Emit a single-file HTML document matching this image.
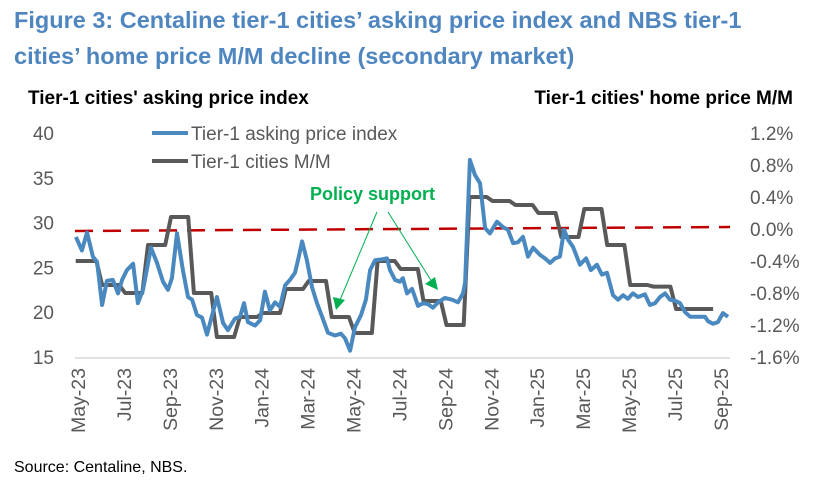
<!DOCTYPE html>
<html><head><meta charset="utf-8"><style>
body{margin:0;background:#fff;}
svg{display:block;font-family:"Liberation Sans",Arial,sans-serif;}
</style></head><body>
<svg id="chart" width="821" height="488" viewBox="0 0 821 488">
<text x="14" y="28" font-size="23.5" font-weight="bold" fill="#4F86C0">Figure 3: Centaline tier-1 cities’ asking price index and NBS tier-1</text>
<text x="14" y="64" font-size="23.5" font-weight="bold" fill="#4F86C0">cities’ home price M/M decline (secondary market)</text>
<text x="28" y="104" font-size="19" font-weight="bold" fill="#000">Tier-1 cities' asking price index</text>
<text x="793" y="104" font-size="19" font-weight="bold" fill="#000" text-anchor="end">Tier-1 cities' home price M/M</text>
<line x1="75" y1="358" x2="730" y2="358" stroke="#d9d9d9" stroke-width="1.5"/>
<g id="ylt"></g>
<g id="yrt"></g>
<g id="xt"></g>
<line x1="75" y1="231" x2="730" y2="227" stroke="#C00000" stroke-width="2.5" stroke-dasharray="18,10"/>
<g id="series"></g>
<g>
<line x1="152" y1="133" x2="188" y2="133" stroke="#4A89C0" stroke-width="4"/>
<text x="191" y="140" font-size="19" fill="#595959">Tier-1 asking price index</text>
<line x1="152" y1="161" x2="188" y2="161" stroke="#595959" stroke-width="4"/>
<text x="191" y="168" font-size="19" fill="#595959">Tier-1 cities M/M</text>
</g>
<g>
<text x="310" y="200" font-size="18" font-weight="bold" fill="#00B050">Policy support</text>
<line x1="377" y1="212" x2="340" y2="300" stroke="#00B050" stroke-width="1"/>
<polygon points="336,310 333,297 345,300" fill="#00B050"/>
<line x1="388" y1="212" x2="432" y2="282" stroke="#00B050" stroke-width="1"/>
<polygon points="438,290 425,284 435,277" fill="#00B050"/>
</g>
<text x="14" y="472" font-size="16" fill="#000">Source: Centaline, NBS.</text>
</svg>
<script>
const monthLabels=["May-23","Jul-23","Sep-23","Nov-23","Jan-24","Mar-24","May-24","Jul-24","Sep-24","Nov-24","Jan-25","Mar-25","May-25","Jul-25","Sep-25"];
const leftTicks=[15,20,25,30,35,40];
const rightTicks=[-1.6,-1.2,-0.8,-0.4,0.0,0.4,0.8,1.2];
const askingT=[-0.09,0.17,0.39,0.65,0.83,1.05,1.26,1.52,1.74,1.92,2.13,2.40,2.61,2.83,3.18,3.44,3.70,3.92,4.09,4.31,4.57,4.79,4.97,5.18,5.40,5.62,6.05,6.32,6.53,6.84,7.06,7.23,7.40,7.71,7.93,8.14,8.36,8.58,8.80,9.02,9.23,9.45,9.58,9.76,9.97,10.19,10.41,10.63,10.89,11.19,11.45,11.63,11.85,12.06,12.33,12.54,12.72,12.94,13.24,13.46,13.59,13.81,14.02,14.15,14.33,14.55,14.81,15.03,15.24,15.46,15.68,15.98,16.29,16.55,16.77,16.86,17.07,17.29,17.51,17.73,17.94,18.25,18.51,18.73,18.95,19.16,19.38,19.60,19.82,20.12,20.34,20.56,20.78,20.99,21.17,21.34,21.56,21.86,22.13,22.34,22.60,22.82,23.04,23.30,23.52,23.74,23.95,24.17,24.39,24.69,24.91,25.13,25.35,25.57,25.78,26.00,26.22,26.44,26.66,26.87,27.09,27.31,27.44,27.66,27.87,28.09,28.31];
const askingV=[28.4,26.9,28.9,26.2,25.6,20.8,23.5,23.6,22.1,23.6,24.7,25.4,21.0,22.5,27.2,25.5,23.4,22.5,23.8,28.8,24.7,21.7,21.4,19.7,19.4,17.5,21.7,18.8,18.0,19.3,19.5,21.0,18.9,18.5,19.1,22.3,20.2,21.1,20.6,23.0,23.6,24.4,25.8,27.9,25.8,22.8,21.0,19.5,17.7,17.4,17.6,17.1,15.7,18.3,19.7,21.4,24.7,25.8,25.9,26.0,24.7,23.6,23.4,23.8,22.1,22.6,20.7,21.0,20.9,20.5,21.1,21.6,21.4,21.1,22.1,23.3,37.0,35.3,34.4,29.4,28.8,30.1,29.5,29.2,27.7,27.8,28.4,26.2,27.2,26.4,26.0,25.5,26.0,26.2,29.2,28.1,27.3,25.3,26.0,24.7,25.3,24.2,24.4,21.9,21.4,21.9,21.5,22.1,21.7,22.0,20.8,21.0,21.7,22.1,21.4,21.3,21.0,20.0,19.5,19.5,19.5,19.5,19.0,18.7,18.9,19.9,19.5];
const mmMonth=[0,1,2,3,4,5,6,7,8,9,10,11,12,13,14,15,16,17,18,19,20,21,22,23,24,25,26,27];
const mmV=[-0.4,-0.7,-0.8,-0.2,0.15,-0.8,-1.35,-1.1,-1.05,-0.75,-0.65,-1.1,-1.3,-0.4,-0.5,-0.9,-1.2,0.4,0.35,0.3,0.2,-0.1,0.25,-0.2,-0.7,-0.72,-1.0,-1.0];

const NS="http://www.w3.org/2000/svg";
const x=t=>78+22.96*t;
const yL=v=>133+(40-v)*8.96;
const yR=p=>229-p*80;
function mk(tag,attrs,parent){const e=document.createElementNS(NS,tag);for(const k in attrs)e.setAttribute(k,attrs[k]);parent.appendChild(e);return e;}

const ylt=document.getElementById('ylt');
leftTicks.forEach(v=>{const t=mk('text',{x:54,y:yL(v)+7,'font-size':19,fill:'#595959','text-anchor':'end'},ylt);t.textContent=v;

});
const yrt=document.getElementById('yrt');
rightTicks.forEach(p=>{const t=mk('text',{x:750,y:yR(p)+7,'font-size':19,fill:'#595959'},yrt);t.textContent=p.toFixed(1)+'%';

});
const xt=document.getElementById('xt');
monthLabels.forEach((m,i)=>{const cx=x(i*2);const t=mk('text',{x:0,y:0,'font-size':19.5,fill:'#595959','text-anchor':'end',transform:`translate(${cx+7},368) rotate(-90)`},xt);t.textContent=m;

});

const g=document.getElementById('series');
let pts=[];
mmMonth.forEach((k,i)=>{const s=i===0?k-0.1:k+0.05;const e=i===mmMonth.length-1?k+0.66:k+0.8;pts.push(x(s).toFixed(1)+','+yR(mmV[i]).toFixed(1));pts.push(x(e).toFixed(1)+','+yR(mmV[i]).toFixed(1));});
const gl=mk('polyline',{points:pts.join(' '),fill:'none',stroke:'#595959','stroke-width':4,'stroke-linejoin':'round'},g);


const bp=askingT.map((t,i)=>x(t).toFixed(1)+','+yL(askingV[i]).toFixed(1)).join(' ');
const bl=mk('polyline',{points:bp,fill:'none',stroke:'#4A89C0','stroke-width':4,'stroke-linejoin':'round'},g);


</script>
</body></html>
